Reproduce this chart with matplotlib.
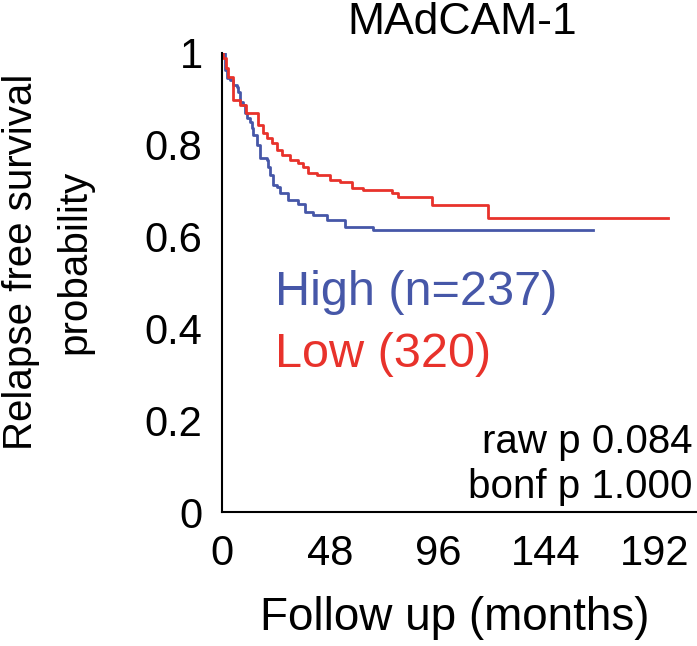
import matplotlib
matplotlib.use('Agg')
import matplotlib.pyplot as plt

plt.rcParams['font.family'] = ['Liberation Sans', 'DejaVu Sans']

# Kaplan-Meier step points (months, survival)
high_t = [0, 1.3, 2.1, 3.6, 5.0, 6.5, 7.3, 8.0, 9.5, 10.2, 11.0, 12.4, 13.2, 13.9,
          15.4, 16.9, 19.9, 20.6, 21.3, 22.8, 24.3, 25.8, 29.5, 33.9, 36.9, 40.6,
          46.5, 54.6, 67.2, 165]
high_s = [1.0, 0.963, 0.945, 0.941, 0.930, 0.927, 0.916, 0.894, 0.887, 0.869, 0.858,
          0.850, 0.836, 0.821, 0.800, 0.771, 0.767, 0.752, 0.734, 0.712, 0.709, 0.694,
          0.680, 0.672, 0.654, 0.647, 0.636, 0.622, 0.614, 0.614]

low_t = [0, 0.6, 1.8, 2.8, 5.0, 8.0, 10.7, 16.1, 18.4, 20.0, 22.1, 24.3, 26.5, 30.2,
         33.9, 36.1, 38.4, 42.1, 48.0, 52.4, 57.6, 62.8, 75.4, 78.4, 93.2, 118, 198]
low_s = [1.0, 0.99, 0.967, 0.948, 0.898, 0.887, 0.869, 0.843, 0.825, 0.814, 0.803,
         0.789, 0.778, 0.767, 0.760, 0.752, 0.738, 0.734, 0.723, 0.720, 0.705, 0.702,
         0.694, 0.687, 0.669, 0.640, 0.640]

x_ticks = [0, 48, 96, 144, 192]
y_ticks = [0, 0.2, 0.4, 0.6, 0.8, 1]
y_tick_labels = ['0', '0.2', '0.4', '0.6', '0.8', '1']

W, H = 697, 646
fig = plt.figure(figsize=(W / 100, H / 100), dpi=100)
ax = fig.add_axes([222 / W, 1 - 512 / H, (W - 222) / W, (512 - 53) / H])

blue = '#4657a8'
red = '#e8322b'
ax.plot(high_t, high_s, drawstyle='steps-post', color=blue, lw=2)
ax.plot(low_t, low_s, drawstyle='steps-post', color=red, lw=2)

ax.set_xlim(0, 211)
ax.set_ylim(0, 1)
ax.set_xticks(x_ticks)
ax.set_yticks(y_ticks)
ax.set_yticklabels(y_tick_labels)
ax.tick_params(axis='both', length=0, labelsize=30)
ax.tick_params(axis='y', pad=14)
ax.tick_params(axis='x', pad=16)
for s in ['top', 'right']:
    ax.spines[s].set_visible(False)
for s in ['left', 'bottom']:
    ax.spines[s].set_linewidth(1.5)
ax.patch.set_alpha(0)

fig.text(462 / W, 1 - 23 / H, 'MAdCAM-1', ha='center', va='center', fontsize=32)
fig.text(48 / W, 1 - 262 / H, 'Relapse free survival\nprobability', rotation=90,
         ha='center', va='center', fontsize=29, linespacing=1.5, multialignment='center')
fig.text(455 / W, 1 - 618 / H, 'Follow up (months)', ha='center', va='center', fontsize=33)

fig.text(275 / W, 1 - 305 / H, 'High (n=237)', color=blue, ha='left', va='baseline', fontsize=35)
fig.text(275 / W, 1 - 367 / H, 'Low (320)', color=red, ha='left', va='baseline', fontsize=35)

fig.text(692 / W, 1 - 453 / H, 'raw p 0.084', ha='right', va='baseline', fontsize=29)
fig.text(692 / W, 1 - 498 / H, 'bonf p 1.000', ha='right', va='baseline', fontsize=29)

fig.savefig('out.png', dpi=100)
